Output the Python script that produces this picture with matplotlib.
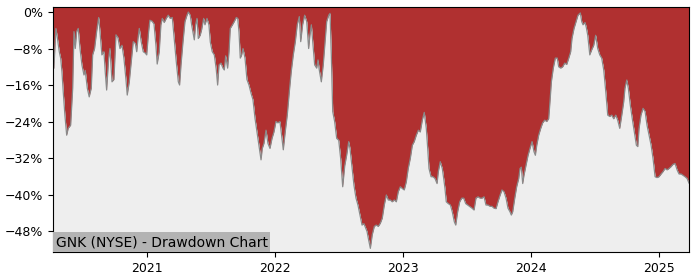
import numpy as np
import pandas as pd
import matplotlib
matplotlib.use("Agg")
from matplotlib import pyplot as plt
import matplotlib.dates as mdates
from matplotlib.ticker import MultipleLocator, PercentFormatter

title = "GNK (NYSE) - Drawdown Chart"

# time as decimal years, drawdown in percent
years = [
    2020.266, 2020.273, 2020.289, 2020.299, 2020.315, 2020.326, 2020.336, 2020.346, 2020.359, 2020.373,
    2020.385, 2020.404, 2020.420, 2020.430, 2020.440, 2020.451, 2020.463, 2020.477, 2020.492, 2020.508,
    2020.518, 2020.534, 2020.549, 2020.565, 2020.576, 2020.591, 2020.607, 2020.623, 2020.633, 2020.648,
    2020.664, 2020.674, 2020.685, 2020.701, 2020.711, 2020.727, 2020.742, 2020.758, 2020.773, 2020.789,
    2020.805, 2020.820, 2020.836, 2020.846, 2020.862, 2020.877, 2020.893, 2020.909, 2020.920, 2020.930,
    2020.940, 2020.955, 2020.971, 2020.987, 2020.998, 2021.013, 2021.023, 2021.039, 2021.055, 2021.070,
    2021.080, 2021.096, 2021.109, 2021.120, 2021.135, 2021.151, 2021.166, 2021.182, 2021.198, 2021.213,
    2021.229, 2021.245, 2021.255, 2021.266, 2021.281, 2021.297, 2021.313, 2021.323, 2021.338, 2021.349,
    2021.359, 2021.370, 2021.380, 2021.391, 2021.401, 2021.416, 2021.427, 2021.443, 2021.453, 2021.469,
    2021.484, 2021.495, 2021.510, 2021.526, 2021.541, 2021.552, 2021.563, 2021.578, 2021.594, 2021.604,
    2021.615, 2021.630, 2021.641, 2021.651, 2021.666, 2021.682, 2021.698, 2021.709, 2021.719, 2021.729,
    2021.740, 2021.750, 2021.766, 2021.781, 2021.797, 2021.813, 2021.828, 2021.844, 2021.859, 2021.875,
    2021.891, 2021.901, 2021.914, 2021.930, 2021.945, 2021.961, 2021.977, 2021.992, 2022.008, 2022.023,
    2022.039, 2022.055, 2022.065, 2022.080, 2022.096, 2022.112, 2022.127, 2022.143, 2022.159, 2022.174,
    2022.190, 2022.201, 2022.216, 2022.232, 2022.248, 2022.263, 2022.273, 2022.284, 2022.295, 2022.310,
    2022.326, 2022.336, 2022.346, 2022.362, 2022.377, 2022.393, 2022.404, 2022.420, 2022.430, 2022.440,
    2022.451, 2022.466, 2022.482, 2022.498, 2022.513, 2022.529, 2022.545, 2022.560, 2022.576, 2022.586,
    2022.602, 2022.617, 2022.633, 2022.648, 2022.664, 2022.680, 2022.695, 2022.711, 2022.719, 2022.729,
    2022.745, 2022.760, 2022.776, 2022.791, 2022.807, 2022.823, 2022.838, 2022.854, 2022.870, 2022.885,
    2022.901, 2022.916, 2022.932, 2022.948, 2022.963, 2022.979, 2022.995, 2023.010, 2023.026, 2023.041,
    2023.057, 2023.073, 2023.088, 2023.104, 2023.120, 2023.135, 2023.151, 2023.166, 2023.182, 2023.193,
    2023.203, 2023.219, 2023.234, 2023.250, 2023.266, 2023.276, 2023.291, 2023.307, 2023.318, 2023.328,
    2023.338, 2023.354, 2023.370, 2023.385, 2023.401, 2023.412, 2023.427, 2023.443, 2023.459, 2023.474,
    2023.490, 2023.505, 2023.521, 2023.539, 2023.555, 2023.570, 2023.586, 2023.602, 2023.617, 2023.633,
    2023.648, 2023.664, 2023.680, 2023.695, 2023.711, 2023.727, 2023.742, 2023.758, 2023.773, 2023.789,
    2023.805, 2023.820, 2023.836, 2023.846, 2023.857, 2023.873, 2023.888, 2023.904, 2023.914, 2023.924,
    2023.935, 2023.945, 2023.961, 2023.977, 2023.992, 2024.008, 2024.023, 2024.034, 2024.045, 2024.060,
    2024.076, 2024.091, 2024.107, 2024.123, 2024.138, 2024.148, 2024.159, 2024.174, 2024.190, 2024.205,
    2024.216, 2024.232, 2024.248, 2024.263, 2024.279, 2024.295, 2024.310, 2024.320, 2024.336, 2024.352,
    2024.367, 2024.385, 2024.396, 2024.406, 2024.422, 2024.432, 2024.443, 2024.459, 2024.474, 2024.490,
    2024.505, 2024.521, 2024.537, 2024.552, 2024.568, 2024.584, 2024.599, 2024.615, 2024.630, 2024.646,
    2024.662, 2024.677, 2024.693, 2024.709, 2024.724, 2024.734, 2024.748, 2024.760, 2024.776, 2024.791,
    2024.807, 2024.823, 2024.834, 2024.844, 2024.859, 2024.875, 2024.891, 2024.906, 2024.922, 2024.938,
    2024.953, 2024.969, 2024.984, 2025.000, 2025.016, 2025.031, 2025.047, 2025.063, 2025.078, 2025.094,
    2025.109, 2025.125, 2025.141, 2025.156, 2025.172, 2025.188, 2025.203, 2025.219, 2025.234,
]
drawdown = [
    -12.5, -12.3, -3.6, -5.4, -8.7, -10.1, -13.1, -17.5, -22.6, -27.0,
    -25.5, -24.8, -16.7, -4.3, -8.0, -4.3, -3.6, -8.0, -11.6, -13.8,
    -12.8, -16.7, -18.6, -16.7, -9.4, -8.0, -4.3, -1.2, -4.3, -9.4,
    -8.7, -13.1, -17.1, -10.1, -8.0, -15.3, -14.8, -5.0, -5.6, -8.0,
    -7.3, -10.1, -14.8, -18.2, -15.3, -11.0, -6.5, -6.9, -8.7, -5.8,
    -3.6, -6.5, -8.7, -9.0, -9.4, -4.3, -1.8, -2.0, -2.6, -7.3,
    -11.4, -8.7, -2.8, -1.4, -2.3, -1.4, -0.7, -1.4, -1.2, -5.8,
    -10.9, -15.3, -16.0, -11.6, -6.7, -2.1, -0.7, 0.0, -0.7, -2.8,
    -4.4, -6.1, -2.8, -1.4, -5.8, -5.1, -3.9, -1.4, -2.8, -1.4,
    -2.8, -6.6, -8.7, -9.4, -12.5, -16.0, -11.6, -11.2, -12.3, -12.7,
    -9.6, -12.3, -8.7, -3.6, -2.9, -2.1, -1.2, -1.4, -4.4, -10.1,
    -9.4, -8.0, -10.1, -14.8, -16.0, -17.8, -19.2, -23.3, -26.2, -29.2,
    -32.4, -29.9, -28.8, -25.9, -28.8, -29.9, -27.7, -26.3, -24.0, -24.3,
    -24.0, -27.7, -30.2, -26.3, -22.6, -17.5, -13.1, -9.4, -6.5, -2.8,
    -1.0, -6.5, -2.8, -0.7, -2.1, -8.0, -5.1, -2.8, -6.5, -11.6,
    -12.3, -10.5, -12.7, -15.3, -11.6, -5.8, -2.1, -0.7, -0.3, -9.4,
    -21.8, -24.0, -27.7, -28.1, -32.1, -38.3, -33.7, -31.4, -28.4, -29.9,
    -34.2, -38.0, -40.8, -42.3, -44.5, -46.7, -46.4, -47.5, -48.1, -49.6,
    -51.8, -48.8, -47.0, -46.7, -47.0, -46.3, -45.2, -42.3, -40.1, -41.2,
    -41.2, -41.6, -41.2, -41.6, -39.4, -38.3, -38.7, -39.0, -37.2, -34.3,
    -32.1, -29.2, -28.4, -27.0, -25.9, -26.3, -23.7, -22.0, -25.5, -29.9,
    -34.3, -36.1, -36.1, -36.5, -37.6, -35.0, -32.8, -34.3, -36.5, -38.7,
    -41.6, -42.0, -42.3, -43.8, -46.0, -46.7, -43.8, -41.6, -40.8, -40.8,
    -42.0, -42.3, -42.6, -43.0, -43.4, -40.8, -40.5, -40.8, -40.8, -40.5,
    -42.3, -42.3, -42.6, -42.6, -43.0, -43.1, -41.6, -40.2, -39.0, -39.4,
    -40.8, -43.0, -43.8, -44.5, -43.8, -40.8, -38.3, -36.5, -34.3, -34.0,
    -37.6, -35.8, -33.6, -31.4, -29.9, -28.4, -30.6, -31.4, -29.2, -27.0,
    -25.5, -24.3, -23.7, -24.0, -23.4, -19.7, -15.3, -12.3, -10.1, -10.1,
    -12.0, -12.3, -12.0, -11.2, -11.5, -10.1, -8.7, -5.8, -3.6, -2.1,
    -0.7, -0.2, -2.1, -2.8, -2.3, -3.4, -5.1, -9.4, -8.3, -7.3,
    -5.1, -8.0, -9.4, -10.1, -12.7, -17.5, -22.6, -22.9, -22.6, -23.4,
    -22.6, -23.7, -25.5, -22.6, -19.7, -16.7, -14.9, -16.7, -20.5, -23.4,
    -26.3, -29.2, -29.5, -25.5, -22.6, -21.1, -21.8, -24.8, -27.0, -29.2,
    -32.1, -36.1, -36.3, -36.1, -35.5, -35.0, -34.3, -34.6, -34.3, -33.9,
    -33.4, -33.2, -34.6, -35.5, -35.5, -35.8, -36.1, -36.5, -37.5,
]

yr = np.array(years)
dates = pd.Timestamp("2020-01-01") + pd.to_timedelta((yr - 2020) * 365.25, unit="D")
dd = np.array(drawdown)

y_lo, y_hi = -52.6, 1.1

fig = plt.figure(figsize=(7, 2.8), dpi=100)
ax = fig.add_axes([0.0757, 0.1, 0.9086, 0.875])

ax.fill_between(dates, dd, y_hi, color="#b03030", lw=0)
ax.fill_between(dates, dd, y_lo, color="#eeeeee", lw=0)
ax.plot(dates, dd, color="#8a8a8a", lw=0.9)

ax.set_xlim(dates[0], dates[-1])
ax.set_ylim(y_lo, y_hi)
ax.yaxis.set_major_locator(MultipleLocator(8))
ax.yaxis.set_major_formatter(PercentFormatter(decimals=0))
ax.xaxis.set_major_locator(mdates.YearLocator())
ax.xaxis.set_major_formatter(mdates.DateFormatter("%Y"))
ax.tick_params(labelsize=9)

ax.text(0.004, 0.012, title, transform=ax.transAxes, fontsize=10, ha="left", va="bottom",
        bbox=dict(facecolor="#b3b3b3", edgecolor="none", pad=2))

fig.savefig("out.png", dpi=100)
